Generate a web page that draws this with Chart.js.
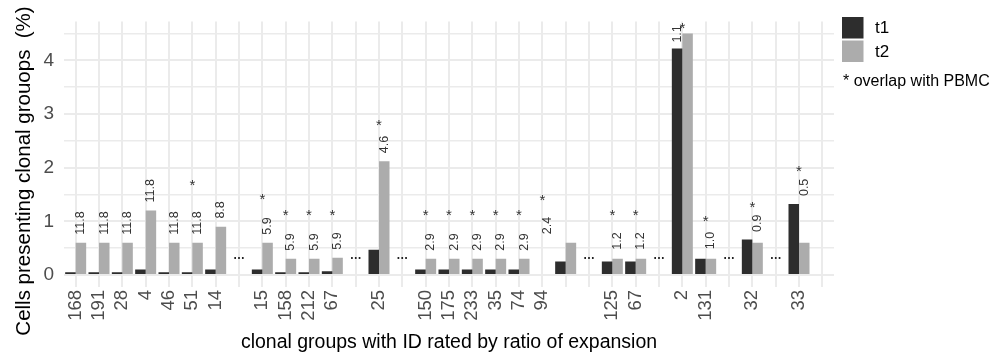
<!DOCTYPE html>
<html>
<head>
<meta charset="utf-8">
<script src="https://cdn.jsdelivr.net/npm/chart.js@4/dist/chart.umd.min.js"></script>
<style>
  html, body { margin: 0; padding: 0; background: #ffffff; }
  #wrap { width: 992px; height: 354px; position: relative; }
</style>
</head>
<body>
<div id="wrap"><canvas id="c" width="992" height="354"></canvas></div>
<script>
// ---- data ----
const categories = ['168','191','28','4','46','51','14','…','15','158','212','67','…','25','…',
  '150','175','233','35','74','94','','…','125','67','…','2','131','…','32','…','33',''];
const t1 = [0.05,0.05,0.05,0.1,0.05,0.05,0.1,null,0.1,0.05,0.05,0.07,null,0.47,null,
  0.1,0.1,0.1,0.1,0.1,null,0.25,null,0.25,0.25,null,4.22,0.3,null,0.66,null,1.32,null];
const t2 = [0.6,0.6,0.6,1.2,0.6,0.6,0.9,null,0.6,0.3,0.3,0.32,null,2.12,null,
  0.3,0.3,0.3,0.3,0.3,null,0.6,null,0.3,0.3,null,4.5,0.3,null,0.6,null,0.6,null];
// ratio labels written above the bars
const ratioLabels = ['11.8','11.8','11.8','11.8','11.8','11.8','8.8',null,'5.9','5.9','5.9','5.9',null,'4.6',null,
  '2.9','2.9','2.9','2.9','2.9','2.4',null,null,'1.2','1.2',null,'1.1','1.0',null,'0.9',null,'0.5',null];
// level (y value) where each ratio label starts
const labelAt = [0.75,0.75,0.75,1.35,0.75,0.75,1.05,null,0.75,0.45,0.45,0.47,null,2.27,null,
  0.45,0.45,0.45,0.45,0.45,0.76,null,null,0.47,0.47,null,4.33,0.48,null,0.8,null,1.47,null];
// level (y value) of the "*" (overlap with PBMC) markers
const starAt = [null,null,null,null,null,1.75,null,null,1.48,1.19,1.19,1.19,null,2.86,null,
  1.18,1.18,1.18,1.18,1.18,1.46,null,null,1.18,1.18,null,4.66,1.07,null,1.34,null,2.0,null];
const yTickValues = [0,0.5,1,1.5,2,2.5,3,3.5,4,4.5];
const seriesNames = ['t1','t2'];
const gapLevel = 0.3;
const xTitle = 'clonal groups with ID rated by ratio of expansion';
const yTitle = 'Cells presenting clonal grouops  (%)';
const noteText = '* overlap with PBMC';

const FONT = '"Liberation Sans", Arial, Helvetica, sans-serif';
const C_T1 = '#2d2d2d', C_T2 = '#acacac', GRID = '#ebebeb';

const annot = {
  id: 'annot',
  afterDatasetsDraw(chart) {
    const ctx = chart.ctx, xs = chart.scales.x, ys = chart.scales.y;
    const slot = xs.width / categories.length;
    const half = slot * 0.9 / 4;
    ctx.save();
    categories.forEach((cat, i) => {
      const cx = xs.getPixelForValue(i);
      if (cat === '…') {
        ctx.fillStyle = '#222';
        ctx.font = 'bold 12px ' + FONT;
        ctx.textAlign = 'center';
        ctx.textBaseline = 'alphabetic';
        ctx.fillText('…', cx, ys.getPixelForValue(gapLevel));
      }
      if (ratioLabels[i] != null) {
        const onT1 = t2[i] != null && labelAt[i] < t2[i];
        const lx = onT1 ? cx - half : cx + half;
        const ly = ys.getPixelForValue(labelAt[i]);
        ctx.save();
        ctx.translate(lx, ly);
        ctx.rotate(-Math.PI / 2);
        ctx.fillStyle = '#333';
        ctx.font = '12.5px ' + FONT;
        ctx.textAlign = 'left';
        ctx.textBaseline = 'middle';
        ctx.fillText(ratioLabels[i], 0, 0);
        ctx.restore();
      }
      if (starAt[i] != null) {
        ctx.fillStyle = '#333';
        ctx.font = '15px ' + FONT;
        ctx.textAlign = 'center';
        ctx.textBaseline = 'alphabetic';
        ctx.fillText('*', cx, ys.getPixelForValue(starAt[i]) + 8.5);
      }
    });
    ctx.restore();
  },
  afterDraw(chart) {
    const ctx = chart.ctx, a = chart.chartArea;
    ctx.save();
    // axis titles
    ctx.fillStyle = '#000';
    ctx.font = '19.5px ' + FONT;
    ctx.textAlign = 'center';
    ctx.textBaseline = 'alphabetic';
    ctx.fillText(xTitle, (a.left + a.right) / 2, 348);
    ctx.save();
    ctx.translate(24, 171);
    ctx.rotate(-Math.PI / 2);
    ctx.font = '20.5px ' + FONT;
    ctx.textBaseline = 'middle';
    ctx.fillText(yTitle, 0, 0);
    ctx.restore();
    // legend
    const ds = chart.data.datasets;
    const kx = 842, ky = 17, ks = 21.5;
    ds.forEach((d, i) => {
      ctx.fillStyle = d.backgroundColor;
      ctx.fillRect(kx, ky + i * (ks + 2), ks, ks);
      ctx.fillStyle = '#000';
      ctx.font = '17px ' + FONT;
      ctx.textAlign = 'left';
      ctx.textBaseline = 'middle';
      ctx.fillText(d.label, 875, ky + i * (ks + 2) + ks / 2 + 1);
    });
    ctx.font = '16px ' + FONT;
    ctx.fillText(noteText, 843, 82);
    ctx.restore();
  }
};

new Chart(document.getElementById('c'), {
  type: 'bar',
  data: {
    labels: categories,
    datasets: [
      { label: seriesNames[0], data: t1, backgroundColor: C_T1, borderWidth: 0 },
      { label: seriesNames[1], data: t2, backgroundColor: C_T2, borderWidth: 0 }
    ]
  },
  options: {
    responsive: false,
    animation: false,
    devicePixelRatio: 1,
    categoryPercentage: 0.9,
    barPercentage: 1.0,
    layout: { padding: { left: 0, right: 158, top: 13, bottom: 0 } },
    plugins: { legend: { display: false }, tooltip: { enabled: false } },
    scales: {
      x: {
        type: 'category',
        offset: true,
        grid: { offset: false, color: GRID, lineWidth: 2, drawTicks: false },
        border: { display: false },
        ticks: {
          autoSkip: false, minRotation: 90, maxRotation: 90, padding: 3,
          color: '#4d4d4d', font: { family: FONT, size: 18.5 },
          callback: (v, i) => (categories[i] === '…' ? '' : categories[i])
        },
        afterFit(s) { s.height = 67; }
      },
      y: {
        min: -0.225, max: 4.725,
        grid: { color: GRID, lineWidth: (c) => (c.tick && Number.isInteger(c.tick.value) ? 2 : 1.6), drawTicks: false },
        border: { display: false },
        afterBuildTicks(s) { s.ticks = yTickValues.map(v => ({ value: v })); },
        ticks: {
          padding: 10, color: '#4d4d4d', font: { family: FONT, size: 19 },
          callback: (v) => (Number.isInteger(v) ? String(v) : '')
        },
        afterFit(s) { s.width = 64; }
      }
    }
  },
  plugins: [annot]
});
</script>
</body>
</html>
